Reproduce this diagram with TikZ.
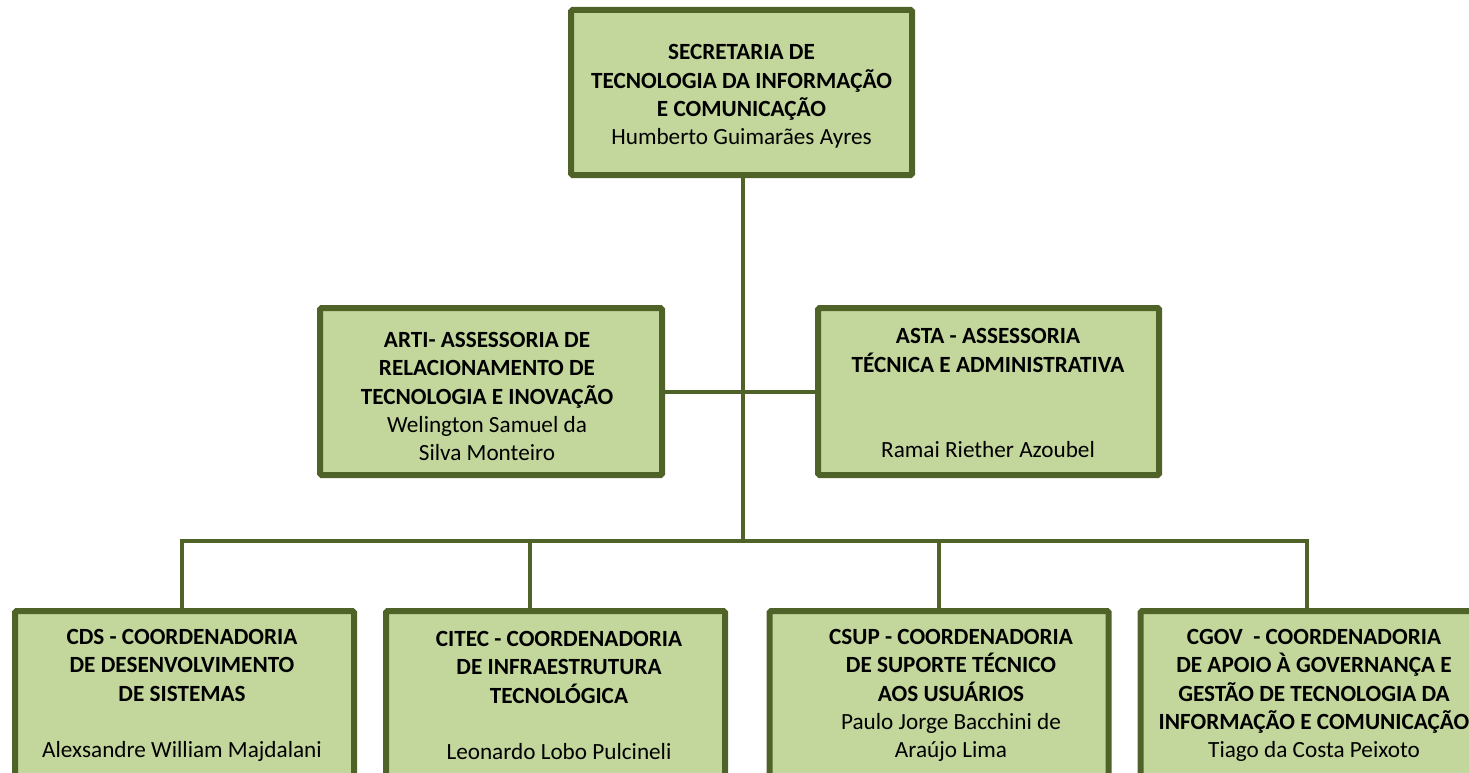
\documentclass[tikz,border=0pt]{standalone}
\usepackage{fontspec}
\setmainfont{Carlito}
\definecolor{boxfill}{HTML}{C3D69B}
\definecolor{boxline}{HTML}{4F6228}
\newcommand\orgfont{\fontsize{23.2pt}{28.3pt}\selectfont}
\tikzset{
  orgbox/.style={draw=boxline, fill=boxfill, line width=6pt, rectangle, inner sep=0pt, rounded corners=1.5pt},
  orgtext/.style={align=center, inner sep=0pt, font=\orgfont, text=black},
  link/.style={draw=boxline, line width=4pt, line join=miter},
}
\begin{document}
\begin{tikzpicture}[x=1pt,y=-1pt]
\useasboundingbox (0,0) rectangle (1469,773);
\clip (0,0) rectangle (1469,773);
% boxes
\node[orgbox, minimum width=341pt, minimum height=165pt] (top) at (741.5,92.5) {};
\node[orgbox, minimum width=342pt, minimum height=167pt] (arti) at (491,391.5) {};
\node[orgbox, minimum width=341pt, minimum height=167pt] (asta) at (988.5,391.5) {};
\node[orgbox, minimum width=339pt, minimum height=186pt] (cds) at (184.5,704) {};
\node[orgbox, minimum width=339pt, minimum height=186pt] (citec) at (555.5,704) {};
\node[orgbox, minimum width=339pt, minimum height=186pt] (csup) at (939,704) {};
\node[orgbox, minimum width=339pt, minimum height=186pt] (cgov) at (1310,704) {};
% bus coordinates
\coordinate (bus) at (743,541);
\coordinate (b1) at (182,541);
\coordinate (b2) at (530,541);
\coordinate (b3) at (939,541);
\coordinate (b4) at (1307,541);
% connectors
\draw[link] ([xshift=1.5pt]top.south) -- (bus);
\draw[link] (arti.east) -- (asta.west);
\draw[link] (b1 |- cds.north) -- (b1) -- (b4) -- (b4 |- cgov.north);
\draw[link] (b2) -- (b2 |- citec.north);
\draw[link] (b3) -- (b3 |- csup.north);
% texts
\node[orgtext] (ttop) at (741.5,96.5) {\textbf{SECRETARIA DE}\\\textbf{TECNOLOGIA DA INFORMAÇÃO}\\\textbf{E COMUNICAÇÃO}\\Humberto Guimarães Ayres};
\node[orgtext] (tarti) at (487,396.5) {\textbf{ARTI- ASSESSORIA DE}\\\textbf{RELACIONAMENTO DE}\\\textbf{TECNOLOGIA E INOVAÇÃO}\\Welington Samuel da\\Silva Monteiro};
\node[orgtext] (tasta) at (988,393) {\textbf{ASTA - ASSESSORIA}\\\textbf{TÉCNICA E ADMINISTRATIVA}\\[56.6pt]Ramai Riether Azoubel};
\node[orgtext] (tcds) at (182,695.5) {\textbf{CDS - COORDENADORIA}\\\textbf{DE DESENVOLVIMENTO}\\\textbf{DE SISTEMAS}\\[28.3pt]Alexsandre William Majdalani};
\node[orgtext] (tcitec) at (559,695.5) {\textbf{CITEC - COORDENADORIA}\\\textbf{DE INFRAESTRUTURA}\\\textbf{TECNOLÓGICA}\\[28.3pt]Leonardo Lobo Pulcineli};
\node[orgtext] (tcsup) at (951,695.5) {\textbf{CSUP - COORDENADORIA}\\\textbf{DE SUPORTE TÉCNICO}\\\textbf{AOS USUÁRIOS}\\Paulo Jorge Bacchini de\\Araújo Lima};
\node[orgtext] (tcgov) at (1314,695.5) {\textbf{CGOV~~- COORDENADORIA}\\\textbf{DE APOIO À GOVERNANÇA E}\\\textbf{GESTÃO DE TECNOLOGIA DA}\\\textbf{INFORMAÇÃO E COMUNICAÇÃO}\\Tiago da Costa Peixoto};
\end{tikzpicture}
\end{document}
